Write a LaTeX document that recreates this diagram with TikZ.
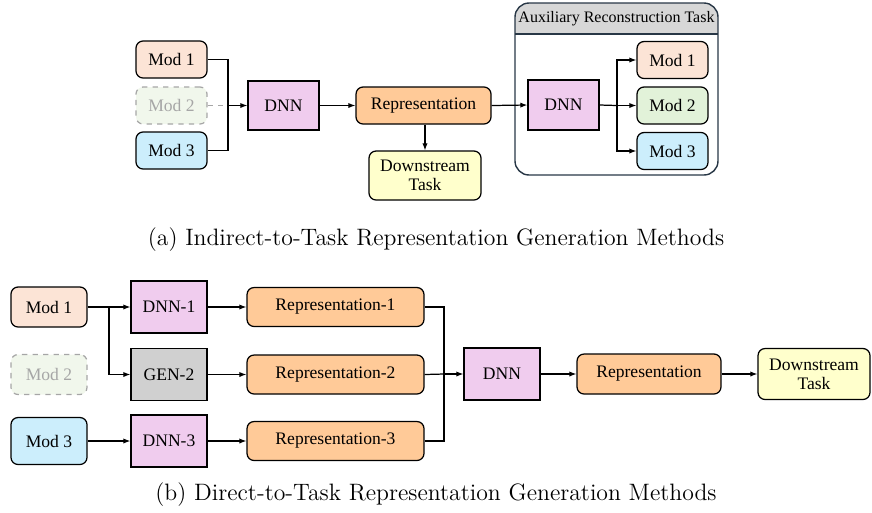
\documentclass[tikz,border=0pt]{standalone}
\usepackage{fontspec}
\newfontfamily\boxfont{Liberation Serif}
\usetikzlibrary{arrows.meta}
\definecolor{modone}{HTML}{FCE4D6}
\definecolor{modtwo}{HTML}{E2F2D9}
\definecolor{modmiss}{HTML}{F1F7EC}
\definecolor{modthree}{HTML}{CCEEFC}
\definecolor{dnncol}{HTML}{F0CCEE}
\definecolor{repcol}{HTML}{FFCA98}
\definecolor{taskcol}{HTML}{FFFFCC}
\definecolor{gencol}{HTML}{D0D0D0}
\definecolor{auxcol}{HTML}{283746}
\begin{document}
\begin{tikzpicture}[x=0.02cm,y=-0.02cm]

    \tikzset{
      blk/.style={
        draw=black,
        line width=0.7pt,
        align=center,
        inner sep=1pt,
        font=\boxfont,
      },
      rbox/.style={blk, rounded corners=4pt},
      modbox/.style={rbox, minimum width=1.42cm, minimum height=0.74cm},
      missing/.style={draw=gray!70, dashed, text=gray!70, fill=modmiss},
      net/.style={blk, minimum width=1.42cm, minimum height=0.98cm, fill=dnncol},
      link/.style={line width=0.7pt},
      arr/.style={link, -{Latex[length=4pt,width=3pt]}},
    }
    \useasboundingbox (0,0) rectangle (872,512);

    % (a) indirect-to-task
    \node[modbox, fill=modone] (m1a) at (171.5,59.5) {Mod 1};
    \node[modbox, missing] (m2a) at (171.5,105.5) {Mod 2};
    \node[modbox, fill=modthree] (m3a) at (171.5,150.5) {Mod 3};
    \node[net] (dnna) at (283.5,105.5) {DNN};
    \node[rbox, fill=repcol, minimum width=2.7cm, minimum height=0.74cm] (repa) at (423.5,105.5) {Representation};
    \node[rbox, fill=taskcol, minimum width=2.24cm, minimum height=0.98cm] (taska) at (425,175.5) {Downstream\\[-1pt]Task};
    \coordinate (ja) at (228,105.5);
    \draw[link] (m1a.east) -| (ja);
    \draw[link] (m3a.east) -| (ja);
    \draw[link, dashed, gray!70] (m2a.east) -- (ja);
    \draw[arr] (ja) -- (dnna.west);
    \draw[arr] (dnna.east) -- (repa.west);
    \draw[arr] (repa.south -| taska.north) -- (taska.north);

    % auxiliary reconstruction
    \begin{scope}
      \clip[rounded corners=8pt] (515,3) rectangle (718,175);
      \fill[gencol!85] (515,3) rectangle (718,34);
    \end{scope}
    \draw[line width=0.8pt, draw=auxcol, rounded corners=8pt] (515,3) rectangle (718,175);
    \draw[line width=0.7pt, draw=auxcol] (515,34) -- (718,34);
    \node[font=\boxfont\fontsize{9.1}{11}\selectfont] (auxt) at (616.5,19) {Auxiliary Reconstruction Task};
    \node[net, minimum height=1cm] (dnnb) at (563.5,105) {DNN};
    \node[modbox, fill=modone] (m1b) at (672.5,60) {Mod 1};
    \node[modbox, fill=modtwo] (m2b) at (672.5,105.5) {Mod 2};
    \node[modbox, fill=modthree] (m3b) at (672.5,151) {Mod 3};
    \coordinate (jb) at (617,105.5);
    \draw[arr] (repa.east) -- (dnnb.west);
    \draw[link] (dnnb.east) -- (jb);
    \draw[arr] (jb) |- (m1b.west);
    \draw[arr] (jb) -- (m2b.west);
    \draw[arr] (jb) |- (m3b.west);

    \node[font=\fontsize{13.5}{16}\selectfont] (capa) at (436,240) {(a) Indirect-to-Task Representation Generation Methods};

    % (b) direct-to-task
    \begin{scope}[every node/.append style={font=\boxfont\fontsize{10.7}{12.5}\selectfont}]
    \node[modbox, fill=modone, minimum width=1.52cm, minimum height=0.8cm] (m1c) at (49,307) {Mod 1};
    \node[modbox, missing, minimum width=1.52cm, minimum height=0.8cm] (m2c) at (49,374.5) {Mod 2};
    \node[modbox, fill=modthree, minimum width=1.52cm, minimum height=0.94cm] (m3c) at (49,441) {Mod 3};
    \node[net, minimum width=1.52cm, minimum height=1.04cm] (dnn1c) at (169,307) {DNN-1};
    \node[net, fill=gencol, minimum width=1.52cm, minimum height=1.04cm] (gen2c) at (169,374.5) {GEN-2};
    \node[net, minimum width=1.52cm, minimum height=1.04cm] (dnn3c) at (169,441) {DNN-3};
    \node[rbox, fill=repcol, minimum width=3.54cm, minimum height=0.78cm] (rep1c) at (335.5,307) {Representation-1};
    \node[rbox, fill=repcol, minimum width=3.54cm, minimum height=0.78cm] (rep2c) at (335.5,374.5) {Representation-2};
    \node[rbox, fill=repcol, minimum width=3.54cm, minimum height=0.78cm] (rep3c) at (335.5,441) {Representation-3};
    \node[net, minimum width=1.52cm, minimum height=1.04cm] (dnnc) at (502,374) {DNN};
    \node[rbox, fill=repcol, minimum width=2.88cm, minimum height=0.8cm] (repc) at (649,374) {Representation};
    \node[rbox, fill=taskcol, minimum width=2.24cm, minimum height=1.02cm] (taskc) at (814,374) {Downstream\\[-1pt]Task};
    \end{scope}
    \coordinate (jc) at (109,307);
    \coordinate (jd) at (444,374);
    \draw[arr] (m1c.east) -- (dnn1c.west);
    \draw[arr] (jc) |- (gen2c.west);
    \draw[arr] (m3c.east) -- (dnn3c.west);
    \draw[arr] (dnn1c.east) -- (rep1c.west);
    \draw[arr] (gen2c.east) -- (rep2c.west);
    \draw[arr] (dnn3c.east) -- (rep3c.west);
    \draw[link] (rep1c.east) -| (jd);
    \draw[link] (rep3c.east) -| (jd);
    \draw[link] (rep2c.east) -- (jd);
    \draw[arr] (jd) -- (dnnc.west);
    \draw[arr] (dnnc.east) -- (repc.west);
    \draw[arr] (repc.east) -- (taskc.west);

    \node[font=\fontsize{13.5}{16}\selectfont] (capb) at (436,495) {(b) Direct-to-Task Representation Generation Methods};

\end{tikzpicture}
\end{document}
